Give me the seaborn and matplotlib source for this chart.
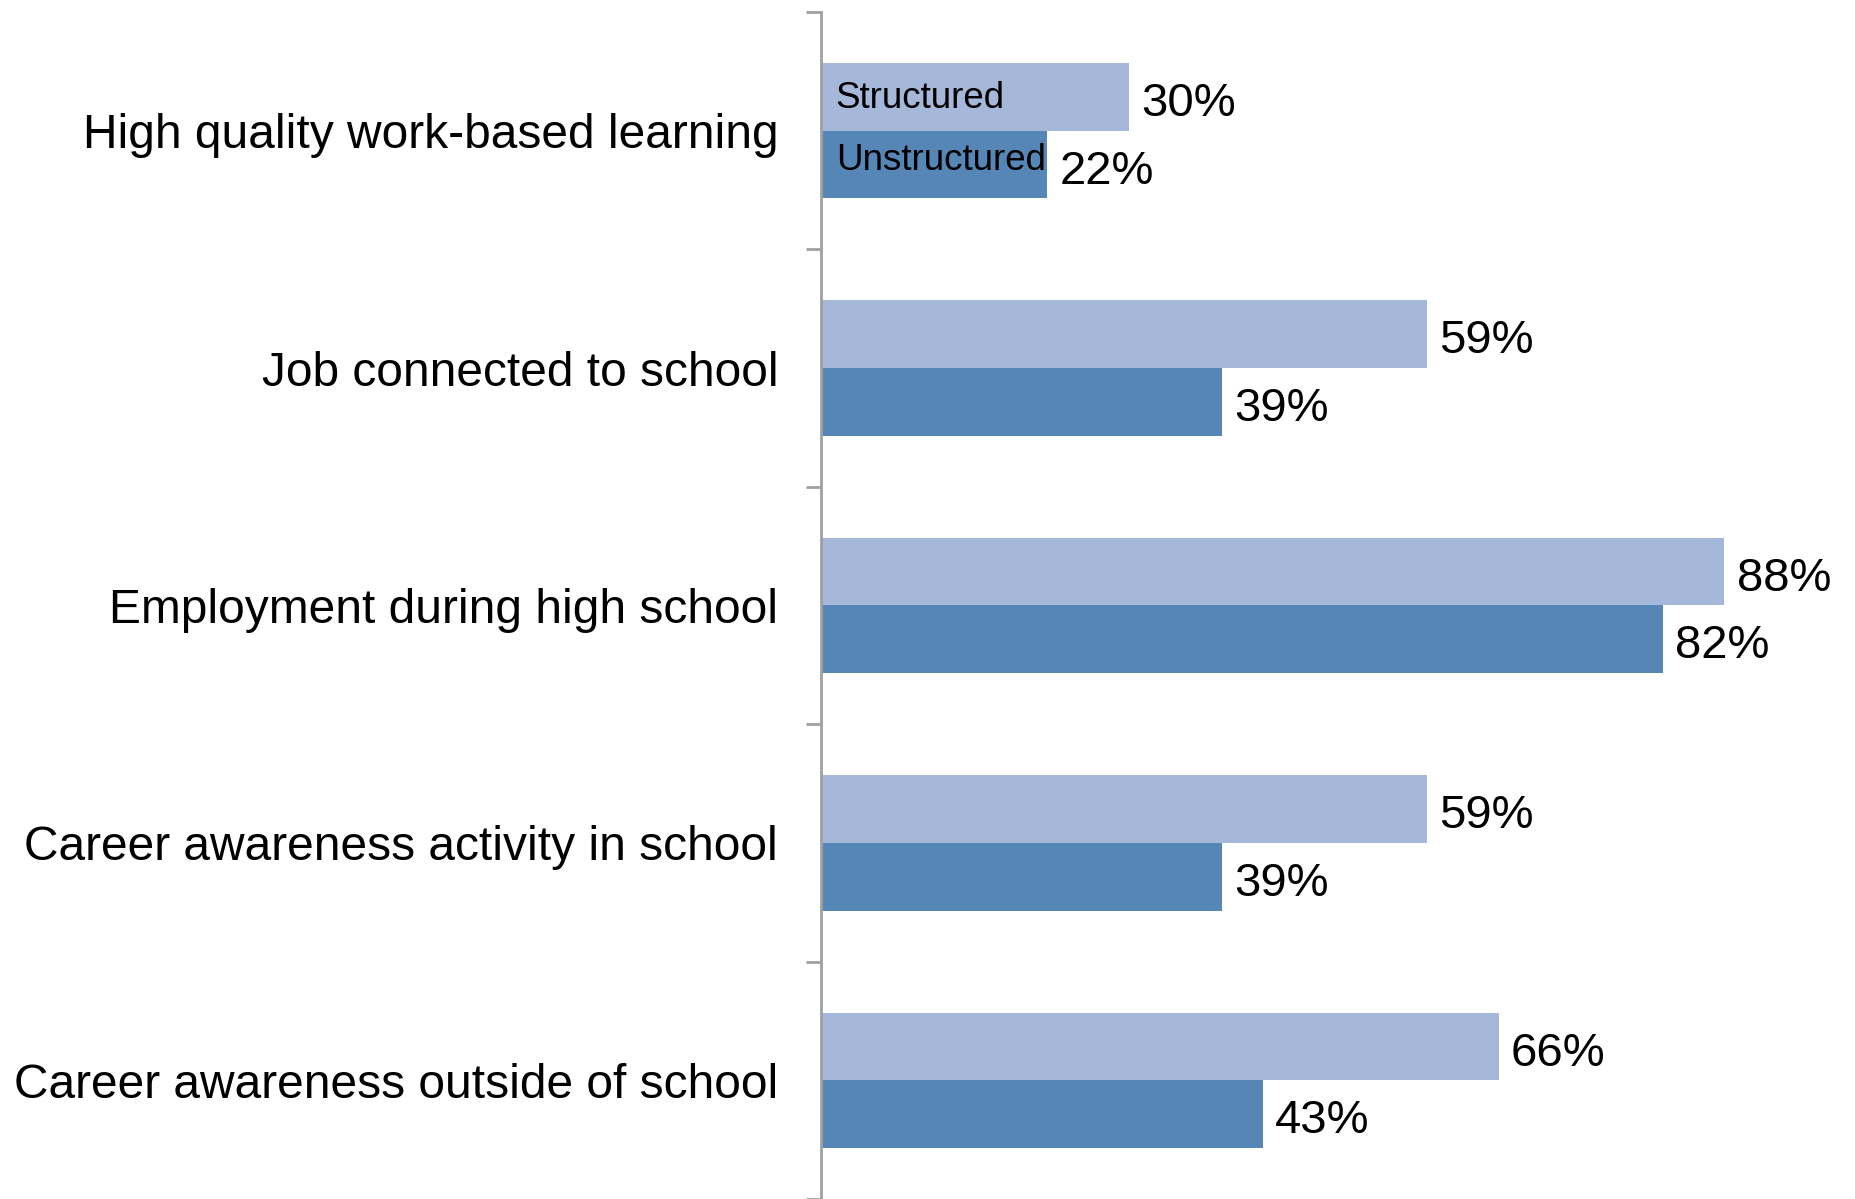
import pandas as pd
import matplotlib.pyplot as plt
import seaborn as sns

categories = ['High quality work-based learning',
              'Job connected to school',
              'Employment during high school',
              'Career awareness activity in school',
              'Career awareness outside of school']
structured = [30, 59, 88, 59, 66]
unstructured = [22, 39, 82, 39, 43]
series = ['Structured', 'Unstructured']
colors = ['#A5B8D9', '#5586B6']

df = pd.DataFrame({
    'category': categories * 2,
    'value': structured + unstructured,
    'group': [series[0]] * len(categories) + [series[1]] * len(categories),
})

sns.set_style('white')
plt.rcParams['font.family'] = ['Liberation Sans', 'DejaVu Sans']

fig = plt.figure(figsize=(18.56, 11.99), dpi=100)
ax = fig.add_axes([0.4425, 0.0, 0.5530, 0.99])

sns.barplot(data=df, x='value', y='category', hue='group', orient='h',
            palette=colors, width=0.57, gap=0, saturation=1,
            linewidth=0, ax=ax, legend=False)

ax.set_xlim(0, 100)
ax.set_ylim(len(categories) - 0.5, -0.5)
ax.set_xlabel('')
ax.set_ylabel('')
ax.set_xticks([])

for s in ['top', 'right', 'bottom']:
    ax.spines[s].set_visible(False)
ax.spines['left'].set_color('#A0A0A0')
ax.spines['left'].set_linewidth(2)

# category labels at centers, tick marks at the boundaries
ax.set_yticks(range(len(categories)))
ax.set_yticklabels(categories, fontsize=34.5, color='black')
ax.tick_params(axis='y', which='major', length=0, pad=31)
ax.set_yticks([i - 0.5 for i in range(len(categories) + 1)], minor=True)
ax.tick_params(axis='y', which='minor', length=11, width=2,
               color='#A0A0A0', left=True)

# value labels
for cont in ax.containers:
    for bar in cont:
        w = bar.get_width()
        yc = bar.get_y() + bar.get_height() / 2
        ax.text(w + 1.2, yc + 0.03, f'{w:.0f}%', fontsize=34,
                va='center', ha='left', color='black')

# series names inside the first bars
for cont, name, dy in zip(ax.containers, series, [0.005, -0.015]):
    bar = cont[0]
    yc = bar.get_y() + bar.get_height() / 2
    ax.text(1.4, yc + dy, name, fontsize=26.5, va='center', ha='left',
            color='black')

plt.savefig('out.png', dpi=100)
plt.close()
